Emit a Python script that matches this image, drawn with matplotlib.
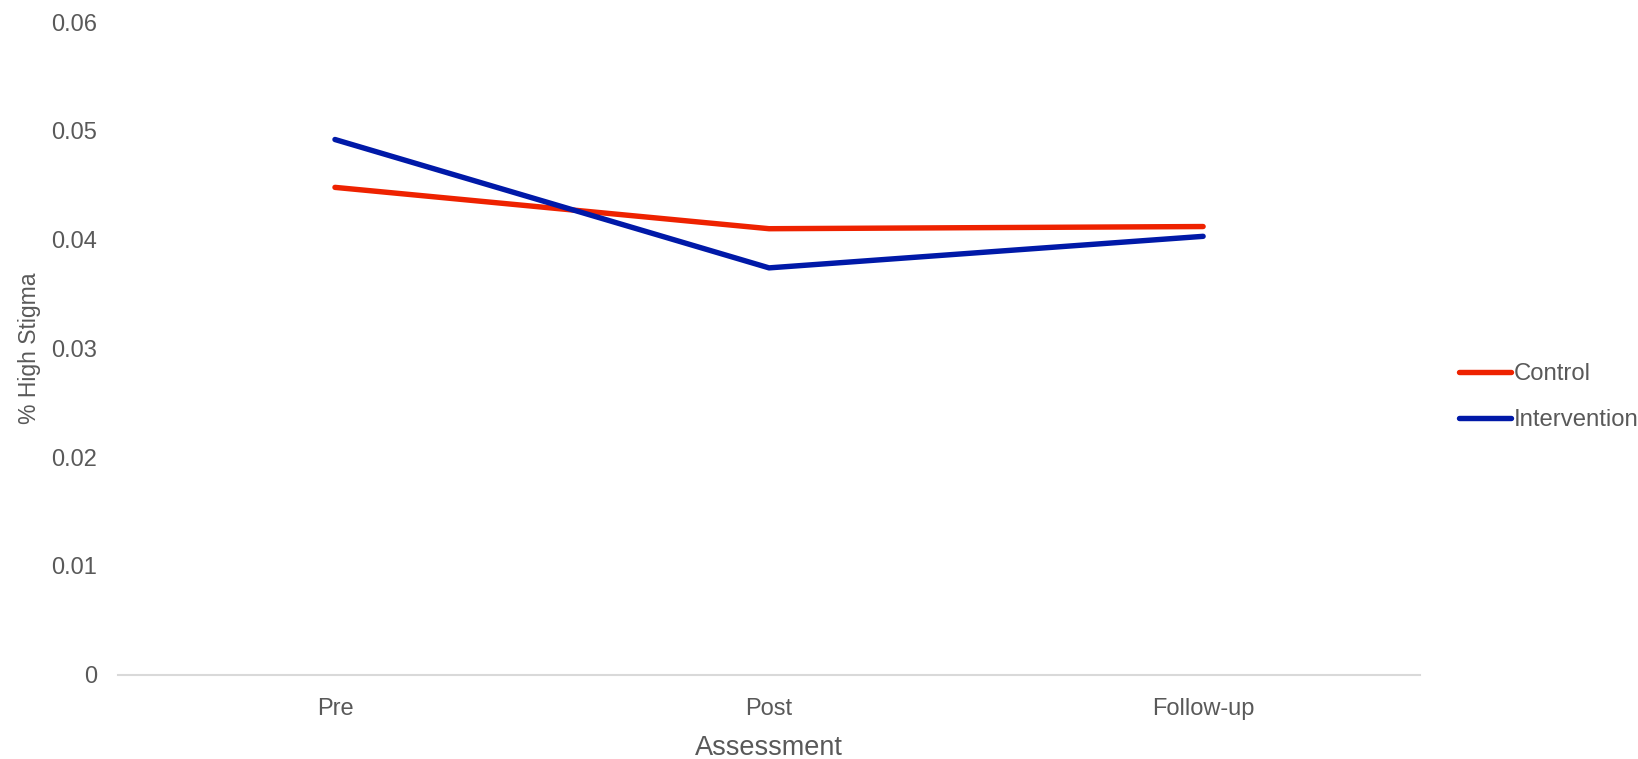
import matplotlib.pyplot as plt

plt.rcParams['font.family'] = ['Liberation Sans', 'DejaVu Sans']

# Share of participants with high stigma at each assessment
assessments = ['Pre', 'Post', 'Follow-up']
control = [0.0448, 0.0410, 0.0412]
intervention = [0.0492, 0.0374, 0.0403]

text_color = '#595959'
colors = {'Control': '#EE2200', 'Intervention': '#0019A8'}

fig = plt.figure(figsize=(16.38, 7.59), dpi=100)
ax = fig.add_axes([0.072, 0.111, 0.795, 0.86])

x = range(len(assessments))
ax.plot(x, control, color=colors['Control'], lw=3.9, label='Control', solid_capstyle='round')
ax.plot(x, intervention, color=colors['Intervention'], lw=3.9, label='Intervention', solid_capstyle='round')

ax.set_xlim(-0.5, len(assessments) - 0.5)
ax.set_ylim(0, 0.06)
ax.set_xticks(list(x))
ax.set_xticklabels(assessments)
ax.set_yticks([0, 0.01, 0.02, 0.03, 0.04, 0.05, 0.06])
ax.set_yticklabels(['0', '0.01', '0.02', '0.03', '0.04', '0.05', '0.06'])

for side in ['top', 'right', 'left']:
    ax.spines[side].set_visible(False)
ax.spines['bottom'].set_color('#d9d9d9')
ax.spines['bottom'].set_linewidth(1.5)
ax.tick_params(axis='both', length=0, labelsize=17, colors=text_color)
ax.tick_params(axis='x', pad=16.5)
ax.tick_params(axis='y', pad=15)

ax.set_xlabel('Assessment', fontsize=19.5, color=text_color)
ax.xaxis.set_label_coords(0.5, -0.092)
ax.set_ylabel('% High Stigma', fontsize=16.5, color=text_color)
ax.yaxis.set_label_coords(-0.059, 0.5)

leg = ax.legend(loc='center left', bbox_to_anchor=(1.013, 0.425), frameon=False,
                fontsize=17.2, handlelength=2.2, handletextpad=0.1, labelspacing=1.0)
for t in leg.get_texts():
    t.set_color(text_color)

fig.savefig('out.png', dpi=100)
